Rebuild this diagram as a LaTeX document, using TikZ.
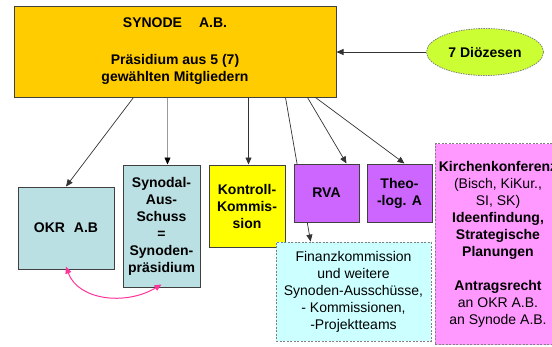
\documentclass[tikz,border=0pt]{standalone}
\usepackage{fontspec}
\setmainfont{Liberation Sans}
\usetikzlibrary{shapes.geometric,arrows.meta,backgrounds}
\definecolor{synorange}{HTML}{FFCC00}
\definecolor{limeg}{HTML}{CCFF33}
\definecolor{teal}{HTML}{BBE0E3}
\definecolor{yel}{HTML}{FFFF00}
\definecolor{viol}{HTML}{CC66FF}
\definecolor{lcyan}{HTML}{CCFFFF}
\definecolor{lpink}{HTML}{FF99FF}
\definecolor{mag}{HTML}{FF3399}
\definecolor{bord}{HTML}{404040}
\tikzset{
  txt/.style={font=\bfseries\fontsize{14}{17}\selectfont},
  rtxt/.style={font=\fontsize{14}{17}\selectfont},
  solidbox/.style={draw=bord, line width=1pt, inner sep=0pt, align=center, txt},
  dashbox/.style={draw=gray, line width=0.8pt, dash pattern=on 2pt off 1.5pt, inner sep=0pt, align=center},
  arr/.style={-{Triangle[length=7pt,width=6pt]}, line width=0.7pt, draw=black!80},
  garr/.style={-{Triangle[length=7pt,width=6pt,line width=0.5pt,color=black]}, line width=1.3pt, draw=black!40},
  parr/.style={{Triangle[length=7pt,width=6pt]}-{Triangle[length=7pt,width=6pt]}, line width=1pt, draw=mag}
}
\begin{document}
\begin{tikzpicture}[x=1pt,y=-1pt]
\useasboundingbox (0,0) rectangle (552,346);
\clip (0,0) rectangle (552,346);
\node[solidbox, fill=synorange, minimum width=322pt, minimum height=91pt] (main) at (175,51.5)
  {SYNODE\hspace{17pt}A.B.\\[20pt]Präsidium aus 5 (7)\\gewählten Mitgliedern};
\node[ellipse, draw=gray, line width=0.8pt, dash pattern=on 1.5pt off 1pt, fill=limeg, minimum width=117pt, minimum height=47pt, inner sep=0pt, txt] (ell) at (485,52) {7 Diözesen};
\node[solidbox, fill=teal, minimum width=96pt, minimum height=82pt] (okr) at (66,228) {OKR\hspace{9pt}A.B};
\node[solidbox, fill=teal, minimum width=77pt, minimum height=122pt] (syn) at (161.5,226) {Synodal-\\Aus-\\Schuss\\=\\Synoden-\\präsidium};
\node[solidbox, fill=yel, minimum width=76pt, minimum height=82pt] (kon) at (247,206) {Kontroll-\\Kommis-\\sion};
\node[solidbox, fill=viol, minimum width=65pt, minimum height=58pt] (rva) at (326.5,193) {RVA};
\node[solidbox, fill=viol, minimum width=65pt, minimum height=58pt] (theo) at (399.5,193) {Theo-\\-log. A};
\node[dashbox, fill=lpink, minimum width=126pt, minimum height=201pt, rtxt] (kir) at (498,244)
  {\textbf{Kirchenkonferenz}\\(Bisch, KiKur.,\\SI, SK)\\\textbf{Ideenfindung,}\\\textbf{Strategische}\\\textbf{Planungen}\\[17pt]\textbf{Antragsrecht}\\an OKR A.B.\\an Synode A.B.};
\node[dashbox, fill=lcyan, minimum width=155pt, minimum height=99pt, rtxt] (fin) at (353.5,291.5)
  {Finanzkommission\\und weitere\\Synoden-Ausschüsse,\\- Kommissionen,\\-Projektteams};
\begin{scope}[on background layer]
\draw[arr] ([xshift=272pt]main.south west) -- ([xshift=35pt]fin.north west);
\end{scope}
\draw[arr] (ell.west) -- (main.east |- ell.west);
\draw[arr] ([xshift=120pt]main.south west) -- (okr.north);
\draw[garr] ([xshift=154pt]main.south west) -- ([xshift=45pt]syn.north west);
\draw[arr] ([xshift=235pt]main.south west) -- ([xshift=40pt]kon.north west);
\draw[arr] ([xshift=294pt]main.south west) -- ([xshift=53pt]rva.north west);
\draw[arr] ([xshift=302pt]main.south west) -- ([xshift=38pt]theo.north west);
\draw[parr] ([yshift=3pt]okr.south) .. controls (78,300) and (125,306) .. ([yshift=3pt]syn.south);
\end{tikzpicture}
\end{document}
